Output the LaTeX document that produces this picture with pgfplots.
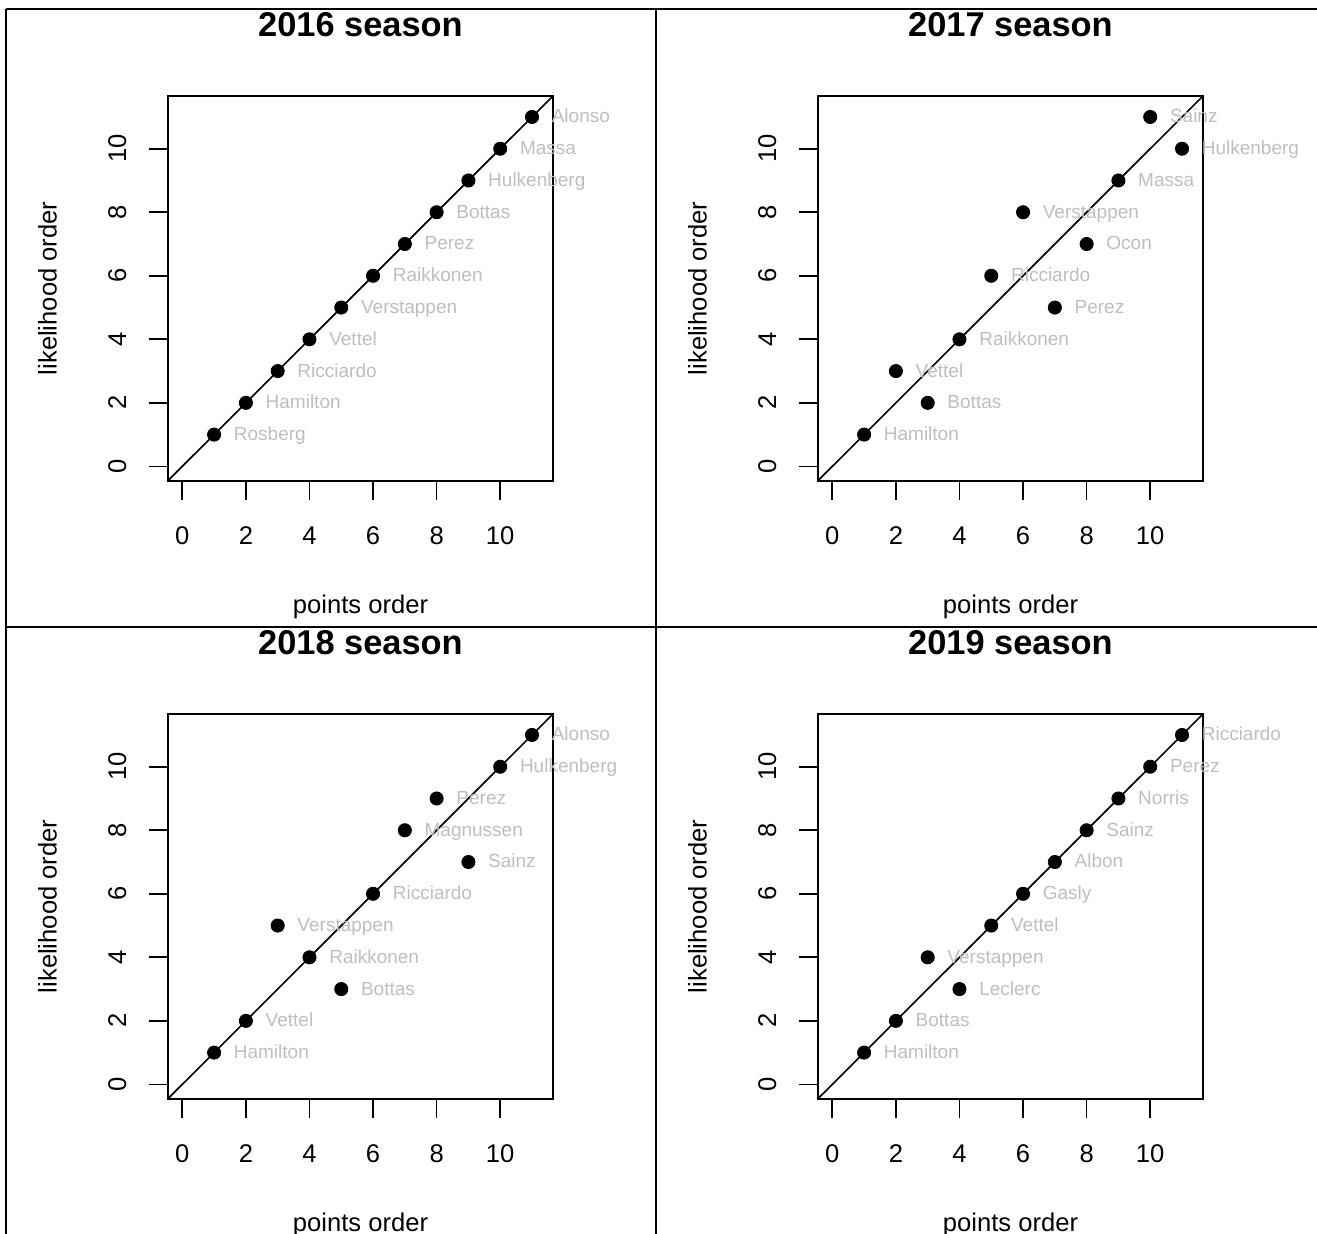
\documentclass[border=0pt]{standalone}
\usepackage{fontspec}
\setmainfont{Liberation Sans}
\usepackage{pgfplots}
\pgfplotsset{compat=1.18}
\definecolor{lbl}{RGB}{190,190,190}
\pgfplotsset{
 f1panel/.style={
  scale only axis, width=192.8pt, height=192.65pt, anchor=south west,
  xmin=-0.46, xmax=11.67, ymin=-0.46, ymax=11.67,
  xtick={0,2,...,10}, ytick={0,2,...,10},
  xtick pos=bottom, ytick pos=left,
  tick align=outside, major tick length=9.5pt,
  tick style={black, line width=0.85pt},
  axis line style={line width=0.85pt},
  /pgf/number format/assume math mode=true,
  ticklabel style={font=\fontsize{12.8pt}{14pt}\selectfont},
  xticklabel style={anchor=base, yshift=-22.5pt},
  yticklabel style={xshift=-11.3pt, rotate=90, anchor=base},
  xlabel={points order}, ylabel={likelihood order},
  label style={font=\fontsize{12.8pt}{14pt}\selectfont},
  xlabel style={at={(axis description cs:0.5,-0.343)}, anchor=base},
  ylabel style={at={(axis description cs:-0.288,0.5)}, rotate=0, anchor=base},
  title style={at={(axis description cs:0.5,1)}, anchor=base, yshift=23.35pt, font=\bfseries\fontsize{17.2pt}{20pt}\selectfont},
  clip=false,
 },
 pts/.style={only marks, mark=*, mark size=3.3pt, black,
  nodes near coords, point meta=explicit symbolic,
  nodes near coords style={anchor=west, inner sep=0pt, xshift=9.7pt, yshift=0.6pt, text=lbl,
   text height=0.716em, text depth=0pt, font=\fontsize{9.5pt}{11pt}\selectfont}},
 diag/.style={black, line width=0.85pt, mark=none}
}
\begin{document}
\begin{tikzpicture}
\path[use as bounding box] (0,0) rectangle (658.5pt,617pt);

\begin{axis}[f1panel, at={(83.85pt,376.5pt)}, title={2016 season}]
\addplot[pts] table[meta=n] {
x y n
1 1 Rosberg
2 2 Hamilton
3 3 Ricciardo
4 4 Vettel
5 5 Verstappen
6 6 Raikkonen
7 7 Perez
8 8 Bottas
9 9 Hulkenberg
10 10 Massa
11 11 Alonso
};
\addplot[diag] coordinates {(-0.46,-0.46) (11.67,11.67)};
\end{axis}

\begin{axis}[f1panel, at={(408.85pt,376.5pt)}, title={2017 season}]
\addplot[pts] table[meta=n] {
x y n
1 1 Hamilton
2 3 Vettel
3 2 Bottas
4 4 Raikkonen
5 6 Ricciardo
6 8 Verstappen
7 5 Perez
8 7 Ocon
9 9 Massa
10 11 Sainz
11 10 Hulkenberg
};
\addplot[diag] coordinates {(-0.46,-0.46) (11.67,11.67)};
\end{axis}

\begin{axis}[f1panel, at={(83.85pt,67.5pt)}, title={2018 season}]
\addplot[pts] table[meta=n] {
x y n
1 1 Hamilton
2 2 Vettel
3 5 Verstappen
4 4 Raikkonen
5 3 Bottas
6 6 Ricciardo
7 8 Magnussen
8 9 Perez
9 7 Sainz
10 10 Hulkenberg
11 11 Alonso
};
\addplot[diag] coordinates {(-0.46,-0.46) (11.67,11.67)};
\end{axis}

\begin{axis}[f1panel, at={(408.85pt,67.5pt)}, title={2019 season}]
\addplot[pts] table[meta=n] {
x y n
1 1 Hamilton
2 2 Bottas
3 4 Verstappen
4 3 Leclerc
5 5 Vettel
6 6 Gasly
7 7 Albon
8 8 Sainz
9 9 Norris
10 10 Perez
11 11 Ricciardo
};
\addplot[diag] coordinates {(-0.46,-0.46) (11.67,11.67)};
\end{axis}

\draw[line width=1.2pt] (3pt,0pt) -- (3pt,612.5pt);
\draw[line width=1.2pt] (328pt,0pt) -- (328pt,612.5pt);
\draw[line width=1.2pt] (3pt,612.5pt) -- (658.5pt,612.5pt);
\draw[line width=1.2pt] (3pt,303.5pt) -- (658.5pt,303.5pt);
\end{tikzpicture}
\end{document}
